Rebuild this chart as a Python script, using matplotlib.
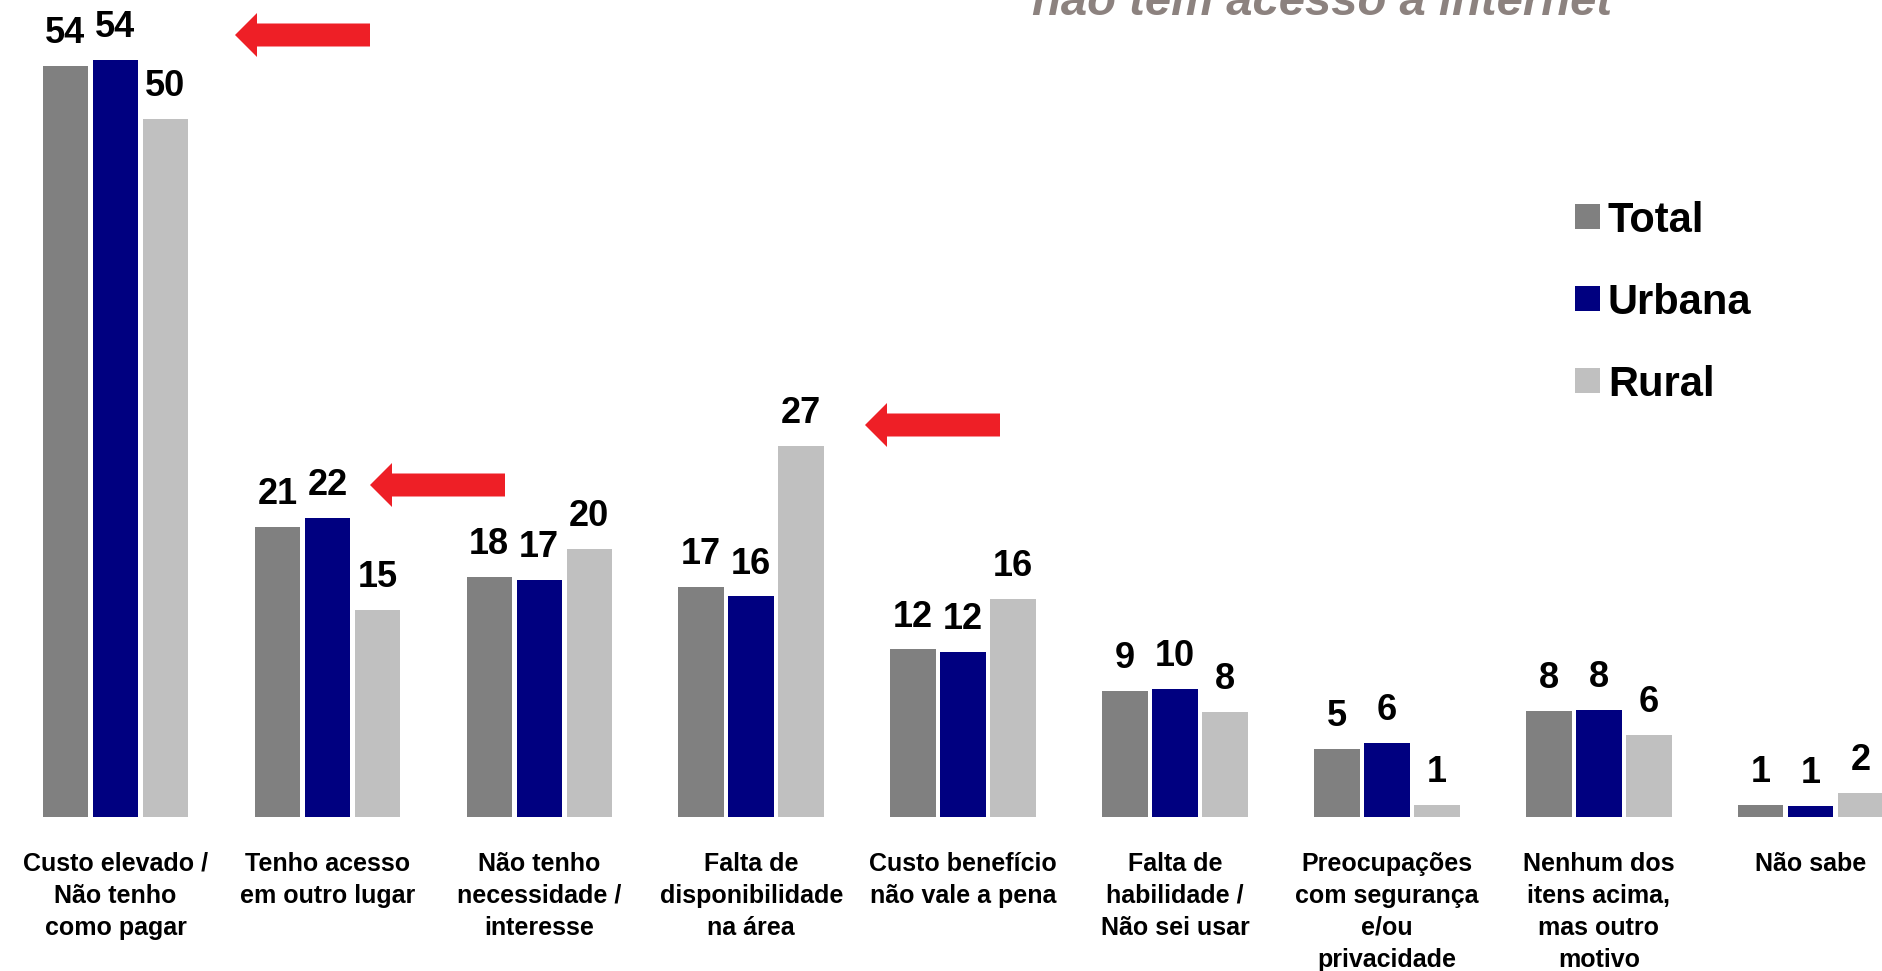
import matplotlib
matplotlib.use("Agg")
import matplotlib.pyplot as plt
from matplotlib.patches import Polygon, Rectangle
import numpy as np

plt.rcParams['font.family'] = ['Liberation Sans', 'DejaVu Sans']

categories = [
    "Custo elevado /\nNão tenho\ncomo pagar",
    "Tenho acesso\nem outro lugar",
    "Não tenho\nnecessidade /\ninteresse",
    "Falta de\ndisponibilidade\nna área",
    "Custo benefício\nnão vale a pena",
    "Falta de\nhabilidade /\nNão sei usar",
    "Preocupações\ncom segurança\ne/ou\nprivacidade",
    "Nenhum dos\nitens acima,\nmas outro\nmotivo",
    "Não sabe",
]
series_names = ["Total", "Urbana", "Rural"]
series_colors = ["#808080", "#000080", "#C0C0C0"]

# bar heights (as drawn) and printed labels
total_vals = [53.8, 20.8, 17.2, 16.5, 12.0, 9.0, 4.9, 7.6, 0.86]
urbana_vals = [54.2, 21.4, 17.0, 15.8, 11.8, 9.2, 5.3, 7.7, 0.79]
rural_vals = [50.0, 14.8, 19.2, 26.6, 15.6, 7.5, 0.86, 5.9, 1.7]
total_labels = [54, 21, 18, 17, 12, 9, 5, 8, 1]
urbana_labels = [54, 22, 17, 16, 12, 10, 6, 8, 1]
rural_labels = [50, 15, 20, 27, 16, 8, 1, 6, 2]

title_text = "não tem acesso à internet"

W, H = 1883, 971
fig = plt.figure(figsize=(W / 100, H / 100), dpi=100)
fig.patch.set_facecolor("white")

base_px = 817
px_per_unit = 13.96
ax = fig.add_axes([0, (H - base_px) / H, 1, base_px / H])
ax.set_facecolor("none")

x = np.arange(len(categories))
step = 0.236
width = 0.215
xmin = -115.5 / 211.9
ax.set_xlim(xmin, xmin + W / 211.9)
ax.set_ylim(0, base_px / px_per_unit)

all_vals = [total_vals, urbana_vals, rural_vals]
all_labels = [total_labels, urbana_labels, rural_labels]
for k, (vals, labs, col) in enumerate(zip(all_vals, all_labels, series_colors)):
    pos = x + (k - 1) * step
    ax.bar(pos, vals, width=width, color=col, edgecolor="none", clip_on=False)
    for xp, v, lab in zip(pos, vals, labs):
        ax.annotate(str(lab), (xp, v), xytext=(0, 16.5), textcoords="offset points",
                    ha="center", va="baseline", fontsize=26, fontweight="bold",
                    color="black", annotation_clip=False)

ax.set_xticks(x)
ax.set_xticklabels(categories, fontsize=18, fontweight="bold", linespacing=1.42)
ax.tick_params(axis="x", length=0, pad=25)
ax.set_yticks([])
for s in ax.spines.values():
    s.set_visible(False)

# legend (drawn manually)
leg_x = 1575
leg_tops = [204, 286, 368]
for name, col, top in zip(series_names, series_colors, leg_tops):
    fig.add_artist(Rectangle((leg_x / W, 1 - (top + 25) / H), 25 / W, 25 / H,
                             transform=fig.transFigure, facecolor=col, edgecolor="none"))
    fig.text(1608 / W, 1 - (top + 28) / H, name, fontsize=30, fontweight="bold",
             ha="left", va="baseline", color="black")

# red arrows
arrow_tips = [(235, 35), (370, 485), (865, 425)]
head_len, head_half, shaft_half, total_len = 22, 22, 11.5, 135
for tx, ty in arrow_tips:
    pts = [(tx, ty), (tx + head_len, ty - head_half), (tx + head_len, ty - shaft_half),
           (tx + total_len, ty - shaft_half), (tx + total_len, ty + shaft_half),
           (tx + head_len, ty + shaft_half), (tx + head_len, ty + head_half)]
    pts = [(px / W, 1 - py / H) for px, py in pts]
    fig.add_artist(Polygon(pts, closed=True, transform=fig.transFigure,
                           facecolor="#EE1F26", edgecolor="none"))

# partially visible title
fig.text(1032 / W, 1 - 15 / H, title_text, fontsize=34, fontweight="bold",
         fontstyle="italic", color="#8C827F", ha="left", va="baseline")

fig.savefig("out.png", dpi=100, facecolor="white")
